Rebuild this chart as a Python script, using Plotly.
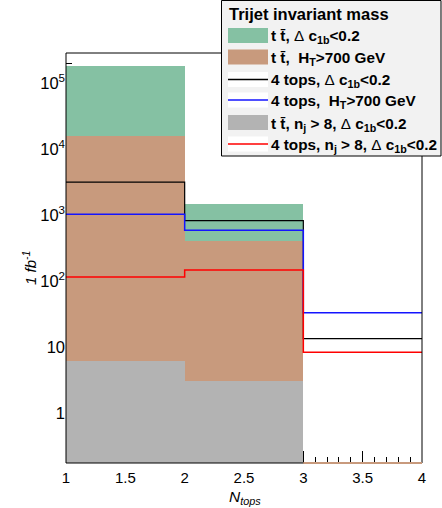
import plotly.graph_objects as go

# ---- data ----
edges = [1, 2, 3, 4]
tt_dc = [1.8e5, 1.48e3, 0]      # t tbar, dc1b<0.2
tt_ht = [1.57e4, 4.0e2, 0]      # t tbar, HT>700
tt_nj = [6.2, 3.1, 0]           # t tbar, nj>8, dc1b<0.2
four_dc = [3.15e3, 8.2e2, 13.4] # 4 tops, dc1b<0.2
four_ht = [1.03e3, 5.9e2, 33.0] # 4 tops, HT>700
four_nj = [1.15e2, 1.47e2, 8.3] # 4 tops, nj>8, dc1b<0.2

legend_title = "Trijet invariant mass"
labels = [
    "<b>t t\u0304, </b>\u0394<b> c<sub>1b</sub>&lt;0.2</b>",
    "<b>t t\u0304,\u00a0 H<sub>T</sub>&gt;700 GeV</b>",
    "<b>4 tops, </b>\u0394<b> c<sub>1b</sub>&lt;0.2</b>",
    "<b>4 tops,\u00a0 H<sub>T</sub>&gt;700 GeV</b>",
    "<b>t t\u0304, n<sub>j</sub> &gt; 8, </b>\u0394<b> c<sub>1b</sub>&lt;0.2</b>",
    "<b>4 tops, n<sub>j</sub> &gt; 8, </b>\u0394<b> c<sub>1b</sub>&lt;0.2</b>",
]

GREEN = "rgb(133,193,163)"
BROWN = "rgb(200,154,125)"
GRAY = "rgb(179,179,179)"
BLACK = "black"
BLUE = "rgb(20,20,255)"
RED = "rgb(255,0,0)"

FONT = "Liberation Sans, Arial, Helvetica, sans-serif"

# plot area in page pixels
W, H = 442, 508
L, R, T, B = 66, 422, 53, 463


def px(p):
    return (p - L) / (R - L)


def py(p):
    return (B - p) / (B - T)


centers = [(edges[i] + edges[i + 1]) / 2 for i in range(len(edges) - 1)]
widths = [edges[i + 1] - edges[i] for i in range(len(edges) - 1)]

fig = go.Figure()


def fill_hist(vals, color):
    fig.add_trace(go.Bar(
        x=centers, y=[v if v > 0 else None for v in vals], width=widths,
        marker=dict(color=color, line=dict(width=0)), showlegend=False,
        hoverinfo="skip"))


def line_hist(vals, color, w=1.3):
    fig.add_trace(go.Scatter(
        x=edges, y=list(vals) + [vals[-1]], mode="lines",
        line=dict(color=color, width=w, shape="hv"), showlegend=False,
        hoverinfo="skip"))


fill_hist(tt_dc, GREEN)
fill_hist(tt_ht, BROWN)
fill_hist(tt_nj, GRAY)
line_hist(four_dc, BLACK, 1.2)
line_hist(four_ht, BLUE, 1.5)
line_hist(four_nj, RED, 1.5)

shapes = []
# frame
shapes.append(dict(type="rect", xref="paper", yref="paper", x0=0, x1=1, y0=0, y1=1,
                   line=dict(color="black", width=1), layer="above"))
# zero-content bin outline of the brown histogram along the bottom
for i, v in enumerate(tt_ht):
    if v <= 0:
        shapes.append(dict(type="line", xref="x", yref="paper",
                           x0=edges[i], x1=edges[i + 1], y0=0, y1=0,
                           line=dict(color=BROWN, width=2), layer="above"))

# legend box
shapes.append(dict(type="rect", xref="paper", yref="paper",
                   x0=px(221.5), x1=px(441), y0=py(156), y1=py(0.5),
                   fillcolor="rgb(242,242,242)", line=dict(color="black", width=1),
                   layer="above"))

annotations = [
    dict(text="<b>" + legend_title + "</b>", xref="paper", yref="paper",
         x=px(227), y=py(14), xanchor="left", yanchor="middle", showarrow=False,
         font=dict(family=FONT, size=16.5, color="black")),
]

kinds = [("fill", GREEN), ("fill", BROWN), ("line", BLACK), ("line", BLUE),
         ("fill", GRAY), ("line", RED)]
rows = [35.5, 57, 79.5, 100, 122.5, 144]
for (kind, col), yc, lab in zip(kinds, rows, labels):
    if kind == "fill":
        shapes.append(dict(type="rect", xref="paper", yref="paper",
                           x0=px(228), x1=px(268), y0=py(yc + 7.5), y1=py(yc - 7.5),
                           fillcolor=col, line=dict(width=0), layer="above"))
    else:
        shapes.append(dict(type="rect", xref="paper", yref="paper",
                           x0=px(228), x1=px(268), y0=py(yc + 7.5), y1=py(yc - 7.5),
                           fillcolor="white", line=dict(width=0), layer="above"))
        shapes.append(dict(type="line", xref="paper", yref="paper",
                           x0=px(228), x1=px(268), y0=py(yc), y1=py(yc),
                           line=dict(color=col, width=1.3), layer="above"))
    annotations.append(dict(text=lab, xref="paper", yref="paper",
                            x=px(269), y=py(yc + 1.5), xanchor="left", yanchor="middle",
                            showarrow=False,
                            font=dict(family=FONT, size=15.3, color="black")))

# axis titles
annotations.append(dict(text="<i>1 fb<sup>-1</sup></i>", xref="paper", yref="paper",
                        x=px(29), y=py(268), textangle=-90, showarrow=False,
                        xanchor="center", yanchor="middle",
                        font=dict(family=FONT, size=15, color="black")))
annotations.append(dict(text="<i>N<sub>tops</sub></i>", xref="paper", yref="paper",
                        x=px(245), y=py(497), showarrow=False,
                        xanchor="center", yanchor="middle",
                        font=dict(family=FONT, size=15.5, color="black")))

yvals = [1, 10, 100, 1e3, 1e4, 1e5]
ytext = ["1", "10", "10<sup>2</sup>", "10<sup>3</sup>", "10<sup>4</sup>", "10<sup>5</sup>"]

fig.update_layout(
    width=W, height=H,
    margin=dict(l=L, r=W - R, t=T, b=H - B, pad=0),
    paper_bgcolor="white", plot_bgcolor="white",
    barmode="overlay", bargap=0,
    shapes=shapes, annotations=annotations,
    font=dict(family=FONT, size=13, color="black"),
    xaxis=dict(range=[edges[0], edges[-1]], tick0=1, dtick=0.5,
               ticks="inside", ticklen=12, tickwidth=1, tickcolor="black",
               minor=dict(ticks="inside", ticklen=6, tick0=1, dtick=0.1,
                          tickwidth=1, tickcolor="black"),
               showgrid=False, zeroline=False, showline=False,
               ticklabelstandoff=4,
               layer="below traces", tickfont=dict(size=15)),
    yaxis=dict(type="log", range=[-0.758, 5.455], tickvals=yvals, ticktext=ytext,
               ticks="inside", ticklen=12, tickwidth=1, tickcolor="black",
               minor=dict(ticks="inside", ticklen=6, tickcolor="black", dtick="D1"),
               showgrid=False, zeroline=False, showline=False,
               layer="below traces", tickfont=dict(size=16.5)),
)

fig.write_html("out.html", config={"displayModeBar": False},
               post_script="document.body.style.margin='0';")
